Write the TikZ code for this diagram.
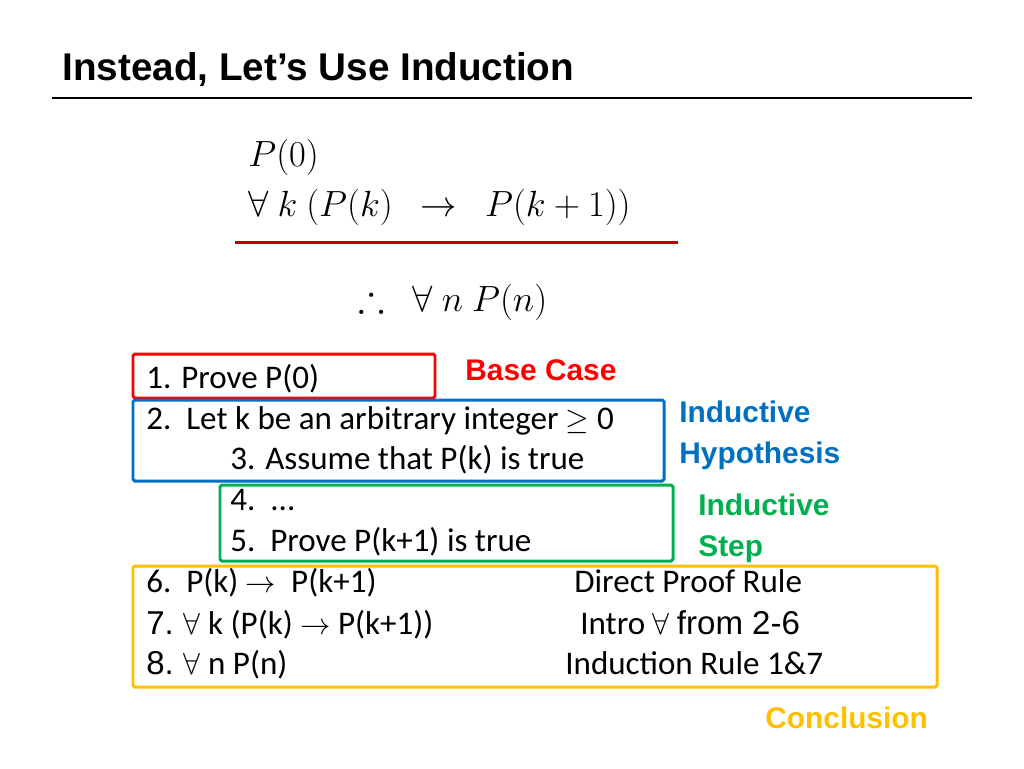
\documentclass[tikz,border=0pt]{standalone}
\usepackage{fontspec}
\usepackage{amsmath,amssymb}
\setmainfont{Carlito}
\newfontfamily\headfont{Liberation Sans}
\usetikzlibrary{positioning}
\definecolor{boxred}{HTML}{FF0000}
\definecolor{linered}{HTML}{C00000}
\definecolor{boxblue}{HTML}{0070C0}
\definecolor{boxgreen}{HTML}{00B050}
\definecolor{boxyellow}{HTML}{FFC000}
\tikzset{
  line/.style={anchor=base west,inner sep=0pt,font=\fontsize{18.8}{22}\selectfont},
  formula/.style={anchor=base west,inner sep=0pt,font=\fontsize{22.5}{25}\selectfont},
  tag/.style={anchor=base west,inner sep=0pt,font=\headfont\bfseries\fontsize{17}{20}\selectfont},
  frame/.style={line width=1.7pt,rounded corners=1pt}
}
\begin{document}
\begin{tikzpicture}[x=0.02cm,y=-0.02cm]
    \useasboundingbox (0,0) rectangle (1024,768);
    % heading
    \node[anchor=base west,inner sep=0pt,font=\headfont\bfseries\fontsize{22}{24}\selectfont] (title) at (62,80) {Instead, Let’s Use Induction};
    \draw[line width=1.2pt] (52,98) -- (972,98);
    % the rule
    \node[formula] (p0) at (248,166) {$P(0)$};
    \node[formula] (step) at (248,216) {$\forall\ k\ (P(k)\ \ \rightarrow\ \ P(k+1))$};
    \draw[linered,line width=1.7pt] (235,242) -- (678,242);
    \node[formula] (concl) at (358,311) {$\therefore\ \ \forall\ n\ P(n)$};
    % proof lines
    \node[line] (l1) at (146,388) {1. Prove P(0)};
    \node[line] (l2) at (146,429) {2.\ \ Let k be an arbitrary integer $\geq$ 0};
    \node[line] (l3) at (230,469) {3. Assume that P(k) is true};
    \node[line] (l4) at (230,510) {4.\ \ ...};
    \node[line] (l5) at (230,551) {5.\ \ Prove P(k+1) is true};
    \node[line] (l6) at (146,592) {6.\ \ P(k) $\rightarrow$\ \ P(k+1)};
    \node[line] (l7) at (146,634) {{\headfont 7.} $\forall$ k (P(k) $\rightarrow$ P(k+1))};
    \node[line] (l8) at (146,674) {{\headfont 8.} $\forall$ n P(n)};
    \node[line] (r6) at (574,592) {Direct Proof Rule};
    \node[line] (r7) at (580,634) {Intro $\forall$ {\headfont from 2-6}};
    \node[line] (r8) at (565,674) {Induction Rule 1\&7};
    % frames
    \draw[frame,boxred] (133,354) rectangle (435,398);
    \draw[frame,boxblue] (133,400) rectangle (664,481);
    \draw[frame,boxgreen] (220,485) rectangle (673,561);
    \draw[frame,boxyellow] (133,566) rectangle (937,687);
    % tags
    \node[tag,text=boxred] (base) at (465,380) {Base Case};
    \node[tag,text=boxblue] (hyp1) at (679,422) {Inductive};
    \node[tag,text=boxblue] (hyp2) at (679,463) {Hypothesis};
    \node[tag,text=boxgreen] (ind1) at (698,515) {Inductive};
    \node[tag,text=boxgreen] (ind2) at (698,556) {Step};
    \node[tag,text=boxyellow] (conc) at (765,728) {Conclusion};
\end{tikzpicture}
\end{document}
